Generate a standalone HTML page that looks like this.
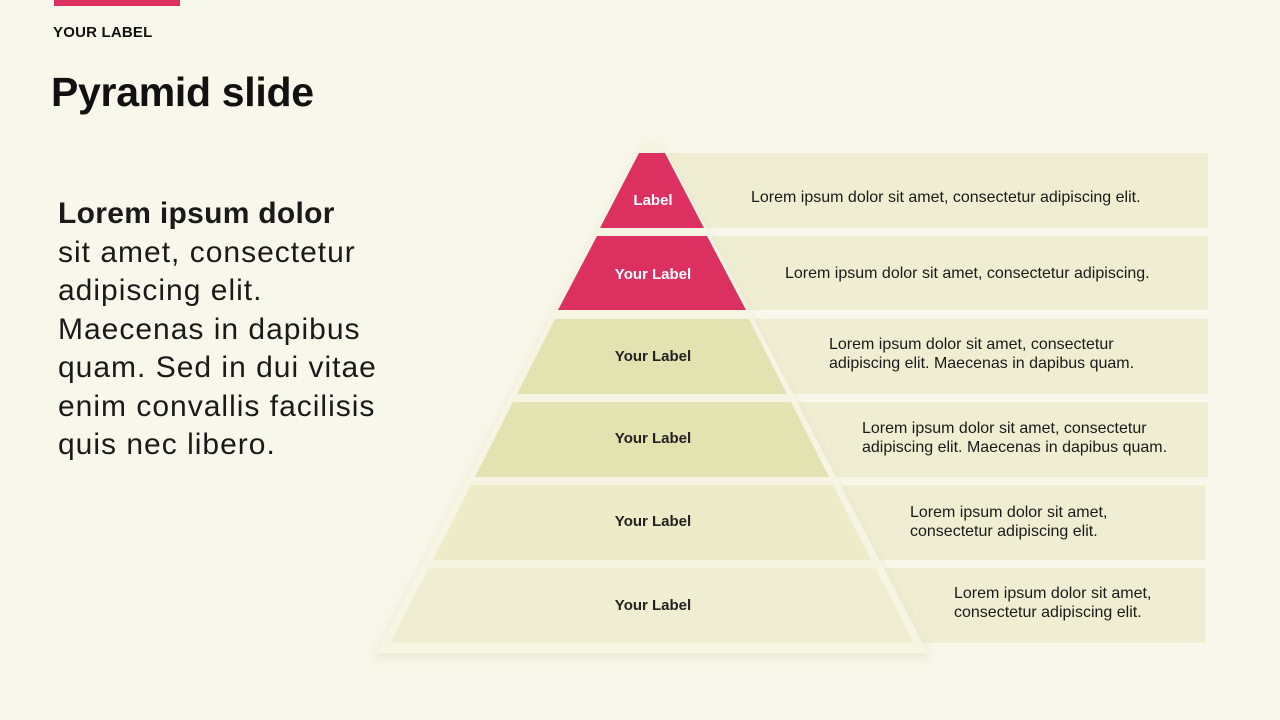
<!DOCTYPE html>
<html><head><meta charset="utf-8"><style>
body{margin:0;width:1280px;height:720px;background:#f8f7eb;font-family:"Liberation Sans",sans-serif;position:relative;overflow:hidden;color:#111}
.bar{position:absolute;left:54px;top:0;width:126px;height:6px;background:#dc3060}
.lab{position:absolute;left:53px;top:24px;font-size:15px;font-weight:bold;letter-spacing:0.2px}
h1{position:absolute;left:51px;top:69px;margin:0;font-size:41px;font-weight:bold;letter-spacing:-0.3px}
.body{position:absolute;left:58px;top:195px;width:400px;font-size:30px;letter-spacing:1px;line-height:38.5px;color:#1a1a1a;white-space:nowrap}
</style></head><body>
<div class="bar"></div>
<div class="lab">YOUR LABEL</div>
<h1>Pyramid slide</h1>
<div class="body"><b style="letter-spacing:0.3px">Lorem ipsum dolor</b><br>sit amet, consectetur<br>adipiscing elit.<br>Maecenas in dapibus<br>quam. Sed in dui vitae<br>enim convallis facilisis<br>quis nec libero.</div>
<svg width="1280" height="720" style="position:absolute;left:0;top:0" font-family="Liberation Sans, sans-serif">
<defs><filter id="sh" x="-10%" y="-10%" width="120%" height="130%"><feGaussianBlur stdDeviation="5"/></filter></defs>
<g fill="#efeed2">
<rect x="640" y="153" width="568" height="75"/>
<rect x="640" y="236" width="568" height="74"/>
<rect x="640" y="319" width="568" height="75"/>
<rect x="640" y="402" width="568" height="75"/>
<rect x="640" y="485" width="565" height="75"/>
<rect x="640" y="568" width="565" height="75"/>
</g>
<polygon points="641,147 663,147 932,659 372,659" fill="#e2e0c8" opacity="0.6" filter="url(#sh)"/>
<polygon points="641,145 663,145 928,653 376,653" fill="#f6f4e3"/>
<polygon points="639,153 665,153 704,228 600,228" fill="#dc3060"/>
<polygon points="597,236 707,236 746,310 558,310" fill="#dc3060"/>
<polygon points="555,319 749,319 787,394 517,394" fill="#e3e2b1"/>
<polygon points="513,402 791,402 829,477 475,477" fill="#e3e2b1"/>
<polygon points="471,485 833,485 871,560 433,560" fill="#edebc8"/>
<polygon points="429,568 875,568 914,643 390,643" fill="#efeed2"/>
<g font-size="15" font-weight="bold" text-anchor="middle">
<text x="653" y="205" fill="#fff">Label</text>
<text x="653" y="279" fill="#fff">Your Label</text>
<text x="653" y="361" fill="#222">Your Label</text>
<text x="653" y="443" fill="#222">Your Label</text>
<text x="653" y="526" fill="#222">Your Label</text>
<text x="653" y="610" fill="#222">Your Label</text>
</g>
<g font-size="16" fill="#1a1a1a">
<text x="751" y="202">Lorem ipsum dolor sit amet, consectetur adipiscing elit.</text>
<text x="785" y="278">Lorem ipsum dolor sit amet, consectetur adipiscing.</text>
<text x="829" y="349">Lorem ipsum dolor sit amet, consectetur</text>
<text x="829" y="368">adipiscing elit. Maecenas in dapibus quam.</text>
<text x="862" y="433">Lorem ipsum dolor sit amet, consectetur</text>
<text x="862" y="452">adipiscing elit. Maecenas in dapibus quam.</text>
<text x="910" y="517">Lorem ipsum dolor sit amet,</text>
<text x="910" y="536">consectetur adipiscing elit.</text>
<text x="954" y="598">Lorem ipsum dolor sit amet,</text>
<text x="954" y="617">consectetur adipiscing elit.</text>
</g>
</svg>
</body></html>
